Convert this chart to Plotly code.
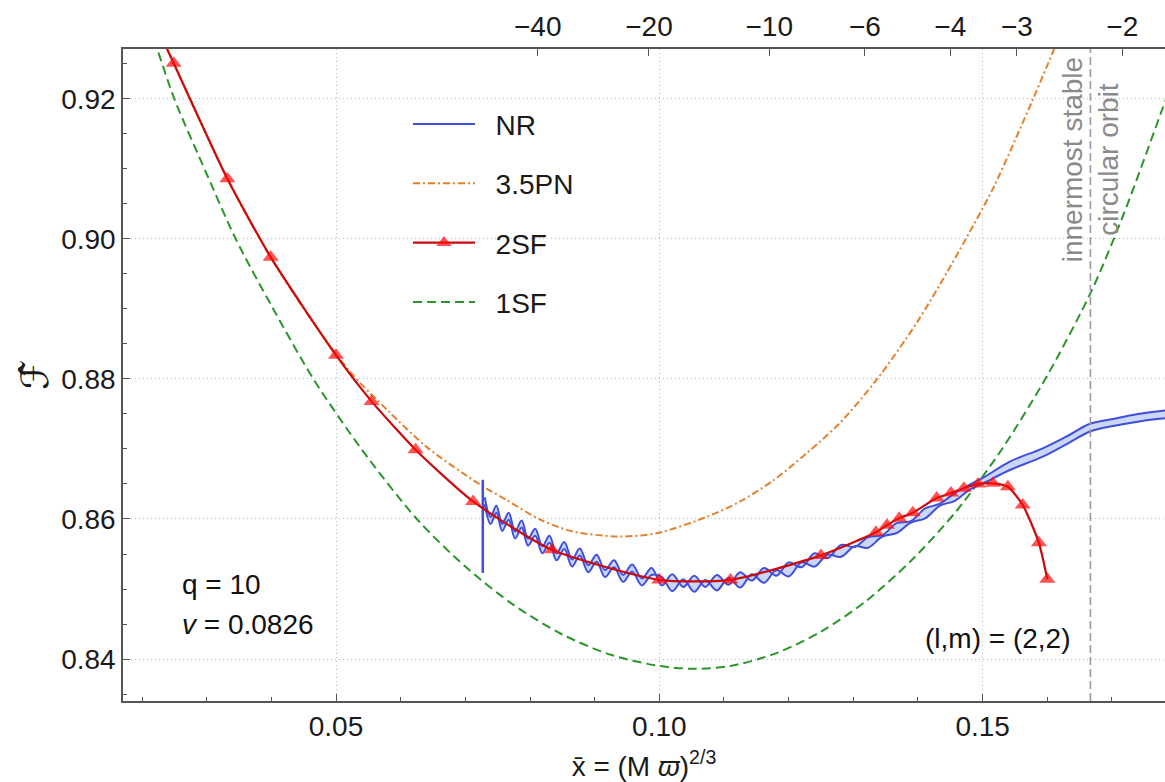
import plotly.graph_objects as go

# ---------------- data ----------------
# 2SF (red, triangles); first point is the line's continuation above the frame
sf2_x = [0.0237, 0.0249, 0.0332, 0.0399, 0.0500, 0.0555, 0.0623, 0.0712, 0.0834, 0.1000,
         0.1110, 0.1250, 0.1335, 0.1352, 0.1371, 0.1392, 0.1429, 0.1451, 0.1471, 0.1493,
         0.1516, 0.1539, 0.1562, 0.1587, 0.1600]
sf2_y = [0.9275, 0.9251, 0.9086, 0.8974, 0.8834, 0.8768, 0.8699, 0.8625, 0.8556, 0.8513,
         0.8513, 0.8548, 0.8581, 0.8591, 0.8601, 0.8609, 0.8630, 0.8637, 0.8644, 0.8650,
         0.8651, 0.8646, 0.8620, 0.8566, 0.8514]

# 3.5PN (orange dash-dot)
pn_x = [0.0237, 0.0249, 0.0332, 0.0399, 0.0460, 0.0522, 0.0580, 0.0640, 0.0723, 0.0764,
        0.0816, 0.0867, 0.0939, 0.0998, 0.1073, 0.1125, 0.1176, 0.1228, 0.1279, 0.1337,
        0.1400, 0.1444, 0.1474, 0.1517, 0.1578, 0.1609, 0.1625]
pn_y = [0.9275, 0.9251, 0.9086, 0.8974, 0.8887, 0.8810, 0.8755, 0.8703, 0.8649, 0.8627,
        0.8599, 0.8582, 0.8575, 0.8580, 0.8603, 0.8625, 0.8655, 0.8694, 0.8737, 0.8800,
        0.8883, 0.8951, 0.9000, 0.9074, 0.9200, 0.9268, 0.9305]

# 1SF (green dashed)
sf1_x = [0.0218, 0.0224, 0.0250, 0.0300, 0.0345, 0.0400, 0.0465, 0.0540, 0.0625, 0.0700,
         0.0775, 0.0850, 0.0925, 0.1000, 0.1055, 0.1110, 0.1180, 0.1250, 0.1320, 0.1390,
         0.1460, 0.1530, 0.1600, 0.1669, 0.1720, 0.1782, 0.1800]
sf1_y = [0.9285, 0.9270, 0.9200, 0.9093, 0.9000, 0.8905, 0.8800, 0.8699, 0.8600, 0.8532,
         0.8477, 0.8435, 0.8406, 0.8390, 0.8386, 0.8390, 0.8408, 0.8439, 0.8483, 0.8541,
         0.8612, 0.8700, 0.8805, 0.8927, 0.9040, 0.9196, 0.9241]

# NR: upper and lower edges of the error band (oscillation extremes as read)
nr_x = [0.0730, 0.0739, 0.0748, 0.0757, 0.0767, 0.0777, 0.0787, 0.0797, 0.0808, 0.0819,
        0.0830, 0.0841, 0.0853, 0.0865, 0.0877, 0.0890, 0.0903, 0.0916, 0.0930, 0.0944,
        0.0958, 0.0973, 0.0988,
        0.1004, 0.1020, 0.1037, 0.1054, 0.1071, 0.1089, 0.1107, 0.1125, 0.1143, 0.1162,
        0.1181, 0.1200, 0.1220, 0.1240, 0.1260, 0.1281, 0.1302, 0.1323, 0.1345, 0.1367,
        0.1389, 0.1411, 0.1434, 0.1457, 0.1480,
        0.1501, 0.1542, 0.1593, 0.1630, 0.1666, 0.1697, 0.1740, 0.1782, 0.1800]
nr_upper = [0.8631, 0.8603, 0.8619, 0.8593, 0.8609, 0.8582, 0.8598, 0.8572, 0.8586, 0.8561,
            0.8576, 0.8551, 0.8567, 0.8542, 0.8558, 0.8534, 0.8549, 0.8527, 0.8541, 0.8520,
            0.8535, 0.8515, 0.8530,
            0.8505, 0.8521, 0.8503, 0.8519, 0.8503, 0.8520, 0.8506, 0.8524, 0.8512, 0.8530,
            0.8519, 0.8538, 0.8531, 0.8551, 0.8544, 0.8563, 0.8560, 0.8574, 0.8577, 0.8594,
            0.8597, 0.8615, 0.8622, 0.8637, 0.8649,
            0.8659, 0.8682, 0.8701, 0.8718, 0.8736, 0.8742, 0.8750, 0.8755, 0.8757]
nr_lower = [0.8621, 0.8593, 0.8609, 0.8583, 0.8599, 0.8572, 0.8588, 0.8562, 0.8576, 0.8551,
            0.8566, 0.8541, 0.8557, 0.8532, 0.8548, 0.8524, 0.8539, 0.8517, 0.8531, 0.8510,
            0.8525, 0.8505, 0.8520,
            0.8517, 0.8497, 0.8514, 0.8496, 0.8513, 0.8498, 0.8516, 0.8502, 0.8521, 0.8509,
            0.8527, 0.8518, 0.8538, 0.8532, 0.8549, 0.8546, 0.8561, 0.8559, 0.8575, 0.8580,
            0.8595, 0.8601, 0.8619, 0.8626, 0.8642,
            0.8651, 0.8670, 0.8689, 0.8707, 0.8725, 0.8732, 0.8739, 0.8744, 0.8746]
# initial junk spike of the NR data
nr_spike_x = [0.0727, 0.0727]
nr_spike_y = [0.8656, 0.8523]

# innermost stable circular orbit
x_isco = 1 / 6

# top axis (time) tick labels and where they sit on the x̄ axis
top_tick_labels = ["−40", "−20", "−10", "−6", "−4", "−3", "−2"]
top_tick_x = [0.0812, 0.0984, 0.1170, 0.1318, 0.1450, 0.1553, 0.1716]

x_range = [0.01706, 0.1782]
y_range = [0.8340, 0.92714]

# ---------------- styles ----------------
FONT = "Liberation Sans, Arial, sans-serif"
RED_LINE = "#cc0a0a"
RED_MARK = "#ff0a0a"
ORANGE = "#e4812f"
GREEN = "#2a962a"
BLUE = "#3f4fdc"
BAND = "rgba(150,175,245,0.5)"
AXIS = "#555555"
GRID = "#bdbdbd"
NB = "\u00a0\u00a0"

fig = go.Figure()

fig.add_trace(go.Scatter(
    x=sf1_x, y=sf1_y, mode="lines", name=NB + "1SF",
    line=dict(color=GREEN, width=2, dash="9px,5px", shape="spline", smoothing=0.8),
    legendgroup="sf1", legendrank=4))

fig.add_trace(go.Scatter(
    x=pn_x, y=pn_y, mode="lines", name=NB + "3.5PN",
    line=dict(color=ORANGE, width=2, dash="7px,3px,2px,3px", shape="spline", smoothing=0.8),
    legendgroup="pn", legendrank=2))

fig.add_trace(go.Scatter(
    x=nr_spike_x, y=nr_spike_y, mode="lines", showlegend=False,
    line=dict(color=BLUE, width=2.5), legendgroup="nr"))

fig.add_trace(go.Scatter(
    x=nr_x, y=nr_upper, mode="lines", name=NB + "NR",
    line=dict(color=BLUE, width=2.0, shape="spline", smoothing=1.0),
    legendgroup="nr", legendrank=1))

fig.add_trace(go.Scatter(
    x=nr_x, y=nr_lower, mode="lines", showlegend=False, fill="tonexty", fillcolor=BAND,
    line=dict(color=BLUE, width=2.0, shape="spline", smoothing=1.0),
    legendgroup="nr"))

marker_sizes = [0] + [14] * (len(sf2_x) - 1)
fig.add_trace(go.Scatter(
    x=sf2_x, y=sf2_y, mode="lines+markers", name=NB + "2SF",
    line=dict(color=RED_LINE, width=2.2, shape="spline", smoothing=0.6),
    marker=dict(symbol="triangle-up", size=marker_sizes, color=RED_MARK,
                line=dict(width=0)),
    legendgroup="sf2", legendrank=3))

# dummy trace so the top axis exists
fig.add_trace(go.Scatter(x=[None], y=[None], xaxis="x2", showlegend=False, hoverinfo="skip"))

fig.add_shape(type="line", x0=x_isco, x1=x_isco, y0=0, y1=1, xref="x", yref="paper",
              line=dict(color="#9a9a9a", width=1.6, dash="8px,4px"))

fig.add_annotation(x=x_isco, y=0.9113, xref="x", yref="y",
                   text="innermost stable<br>circular orbit", textangle=-90,
                   showarrow=False, font=dict(family=FONT, size=28, color="#8a8a8a"),
                   xanchor="center", yanchor="middle", align="center")

fig.add_annotation(x=0.0259, y=0.8506, xref="x", yref="y", text="q = 10",
                   showarrow=False, xanchor="left", yanchor="middle",
                   font=dict(family=FONT, size=28, color="#111"))
fig.add_annotation(x=0.0259, y=0.8449, xref="x", yref="y", text="<i>v</i> = 0.0826",
                   showarrow=False, xanchor="left", yanchor="middle",
                   font=dict(family=FONT, size=28, color="#111"))
fig.add_annotation(x=0.1408, y=0.8430, xref="x", yref="y", text="(l,m) = (2,2)",
                   showarrow=False, xanchor="left", yanchor="middle",
                   font=dict(family=FONT, size=28, color="#111"))

TICKFONT = dict(family=FONT, size=28, color="#1a1a1a")

fig.update_layout(
    width=1165, height=782,
    margin=dict(l=123, r=0, t=49, b=81, autoexpand=False),
    paper_bgcolor="white", plot_bgcolor="white",
    font=dict(family=FONT, size=28, color="#1a1a1a"),
    showlegend=True,
    legend=dict(x=(408 - 123) / 1042, y=0.923, xanchor="left", yanchor="top",
                bgcolor="rgba(0,0,0,0)", font=dict(family=FONT, size=28, color="#1a1a1a"),
                itemwidth=62, tracegroupgap=20, traceorder="grouped"),
    xaxis=dict(range=x_range, showline=True, linecolor=AXIS, linewidth=1.5,
               ticks="inside", ticklen=7, tickcolor=AXIS, tickwidth=1.2,
               tickvals=[0.05, 0.10, 0.15], tickformat=".2f", tickfont=TICKFONT,
               showgrid=True, gridcolor=GRID, griddash="1px,3px", gridwidth=1,
               zeroline=False,
               minor=dict(dtick=0.01, tick0=0, ticks="inside", ticklen=4,
                          tickcolor=AXIS, showgrid=False),
               title=dict(text="x̄ = (M <i>ϖ</i>)<sup>2/3</sup>", standoff=15,
                          font=dict(family=FONT, size=28))),
    xaxis2=dict(range=x_range, overlaying="x", side="top", anchor="y",
                showline=True, linecolor=AXIS, linewidth=1.5,
                ticks="inside", ticklen=7, tickcolor=AXIS, tickwidth=1.2,
                tickvals=top_tick_x, ticktext=top_tick_labels, tickfont=TICKFONT,
                showgrid=False, zeroline=False),
    yaxis=dict(range=y_range, showline=True, linecolor=AXIS, linewidth=1.5,
               ticks="inside", ticklen=7, tickcolor=AXIS, tickwidth=1.2,
               tickvals=[0.84, 0.86, 0.88, 0.90, 0.92], tickformat=".2f", tickfont=TICKFONT,
               showgrid=True, gridcolor=GRID, griddash="1px,3px", gridwidth=1,
               zeroline=False,
               minor=dict(dtick=0.005, tick0=0, ticks="inside", ticklen=4,
                          tickcolor=AXIS, showgrid=False),
               title=dict(text="ℱ̂", standoff=1,
                          font=dict(family="DejaVu Serif, DejaVu Sans", size=38))),
)

fig.write_html("out.html")
